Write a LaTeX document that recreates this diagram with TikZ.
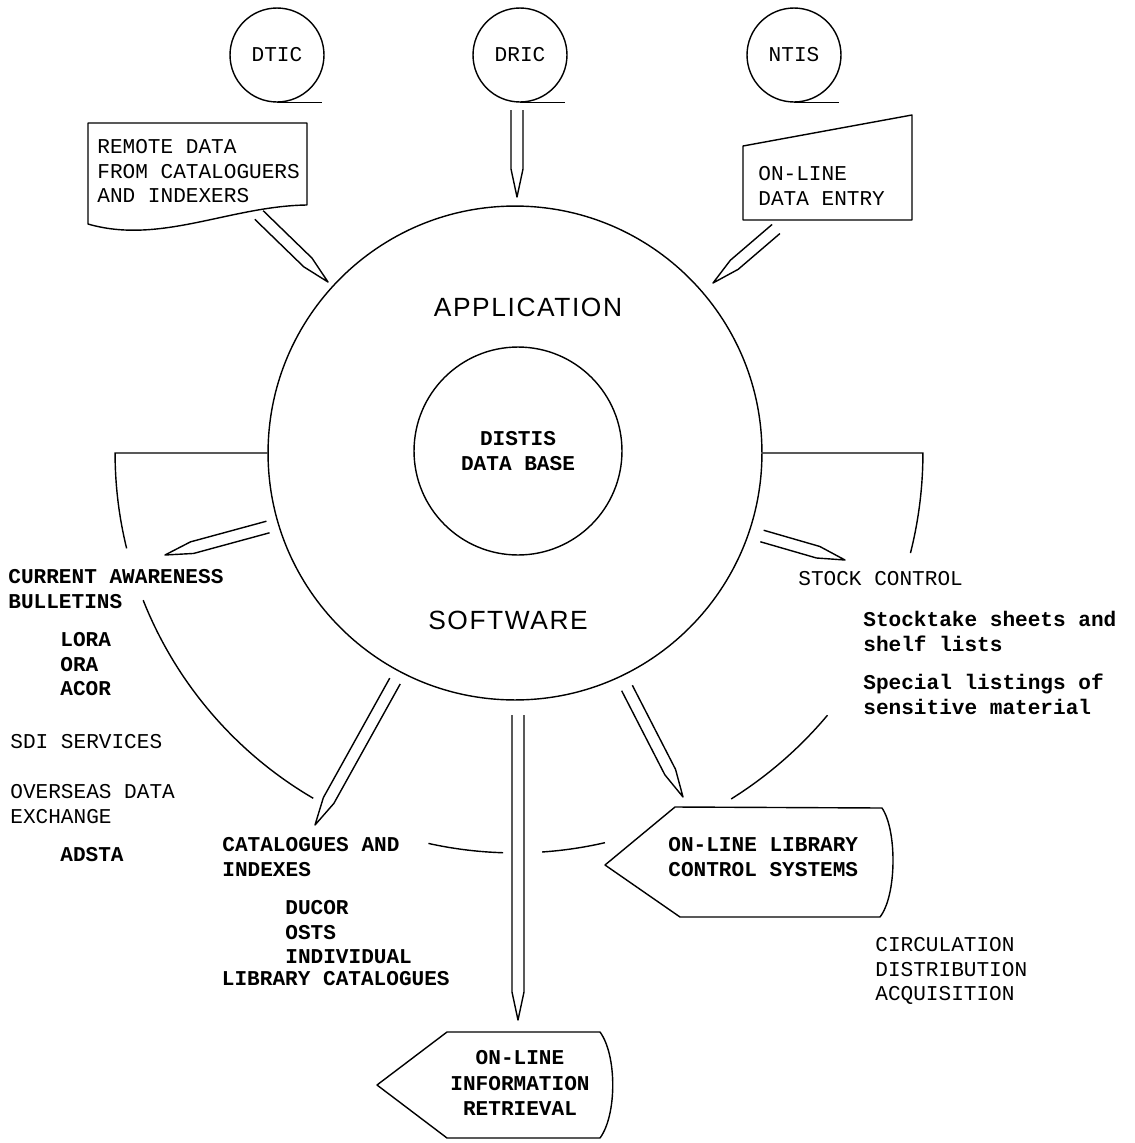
\documentclass[tikz,border=0pt]{standalone}
\usepackage{fontspec}
\setmonofont{Liberation Mono}
\newfontfamily\lettering[LetterSpace=6]{Liberation Sans}
\usetikzlibrary{calc}

% hollow feed arrow: #1 start, #2 tip
\newcommand{\feed}[2]{%
  \coordinate (fp) at ($(#2)!0.56cm!(#1)$);
  \draw[feedline] ($(#1)!0.12cm!90:(#2)$) -- ($(fp)!0.12cm!90:(#2)$) -- (#2)
    -- ($(fp)!0.12cm!-90:(#2)$) -- ($(#1)!0.12cm!-90:(#2)$);
}

\begin{document}
\begin{tikzpicture}[
    x=0.02cm, y=-0.02cm,
    every node/.style={inner sep=0pt},
    lbl/.style={anchor=north west, align=left, font=\ttfamily\fontsize{12pt}{14pt}\selectfont},
    blbl/.style={lbl, font=\ttfamily\bfseries\fontsize{12pt}{14pt}\selectfont},
    tape/.style={circle, draw, line width=0.8pt, minimum size=1.88cm, font=\ttfamily\fontsize{12pt}{14pt}\selectfont},
    hub/.style={circle, draw, line width=0.8pt},
    heading/.style={font=\lettering\fontsize{15pt}{18pt}\selectfont},
    outline/.style={line width=0.8pt, line join=round},
    feedline/.style={line width=0.8pt, line join=round},
    ring/.style={line width=0.8pt}
]
\useasboundingbox (0,0) rectangle (1134,1143);

% Centre: application software round the data base
\node[hub, minimum size=9.88cm] (app) at (515,453) {};
\node[hub, minimum size=4.16cm, font=\ttfamily\bfseries\fontsize{12pt}{14pt}\selectfont, align=center] (db) at (518,451) {DISTIS\\DATA BASE};
\node[heading] (apptxt) at (528,307) {APPLICATION};
\node[heading] (softtxt) at (508,620) {SOFTWARE};

% Top: sources
\node[tape] (dtic) at (277,55) {DTIC};
\node[tape] (dric) at (520,55) {DRIC};
\node[tape] (ntis) at (794,55) {NTIS};
\draw[ring] (dtic.south) -- ++(45,0);
\draw[ring] (dric.south) -- ++(45,0);
\draw[ring] (ntis.south) -- ++(45,0);

\node[lbl] (remote) at (97,139) {REMOTE DATA\\FROM CATALOGUERS\\AND INDEXERS};
\draw[outline] (88,123) -- (307,123) -- (307,205) .. controls (230,206) and (160,245) .. (88,224) -- cycle;

\node[lbl] (entry) at (758,166) {ON-LINE\\DATA ENTRY};
\draw[outline] (743,146) -- (912,115) -- (912,220) -- (743,220) -- cycle;

% Left: bulletins and services
\node[blbl] (current) at (8,569) {CURRENT AWARENESS\\BULLETINS};
\node[blbl] (lora) at (60,632) {LORA\\ORA\\ACOR};
\node[lbl] (sdi) at (10,734) {SDI SERVICES};
\node[lbl] (overseas) at (10,784) {OVERSEAS DATA\\EXCHANGE};
\node[blbl] (adsta) at (60,847) {ADSTA};

% Bottom: catalogues and retrieval
\node[blbl] (catalogues) at (222,837) {CATALOGUES AND\\INDEXES};
\node[blbl] (ducor) at (285,900) {DUCOR\\OSTS\\INDIVIDUAL};
\node[blbl, anchor=north east] (libcat) at (450,971) {LIBRARY CATALOGUES};

\node[blbl, anchor=center, align=center, font=\ttfamily\bfseries\fontsize{12pt}{14.4pt}\selectfont] (retrieval) at (520,1083) {ON-LINE\\INFORMATION\\RETRIEVAL};
\draw[outline] (377,1085) -- (447,1032) -- (600,1032) .. controls (617,1055) and (617,1115) .. (600,1138) -- (447,1138) -- cycle;

% Right: stock and library control
\node[lbl] (stock) at (798,571) {STOCK CONTROL};
\node[blbl] (stocktake) at (863,611) {Stocktake sheets and\\shelf lists};
\node[blbl] (special) at (863,674) {Special listings of\\sensitive material};

\node[blbl] (library) at (668,837) {ON-LINE LIBRARY\\CONTROL SYSTEMS};
\draw[outline] (605,865) -- (675,807) -- (882,808) .. controls (897,830) and (897,895) .. (880,917) -- (680,917) -- cycle;
\node[lbl] (circ) at (875,937) {CIRCULATION\\DISTRIBUTION\\ACQUISITION};

% Brackets round the outputs
\draw[ring] (app.west) -- ([shift={(180:8cm)}]app.center) arc[start angle=180, end angle=193.8, radius=8cm];
\draw[ring] ([shift={(201.6:8cm)}]app.center) arc[start angle=201.6, end angle=239.7, radius=8cm];
\draw[ring] ([shift={(257.5:8cm)}]app.center) arc[start angle=257.5, end angle=268.3, radius=8cm];
\draw[ring] ([shift={(273.9:8cm)}]app.center) arc[start angle=273.9, end angle=283, radius=8cm];
\draw[ring] (app.east) -- ([shift={(0:8.16cm)}]app.center) arc[start angle=0, end angle=-14.2, radius=8.16cm];
\draw[ring] ([shift={(-40:8.16cm)}]app.center) arc[start angle=-40, end angle=-58, radius=8.16cm];

% Feed arrows
\coordinate (remote-out) at (259,215);  \coordinate (app-in1) at (328,282);
\coordinate (dric-out) at (517,110);    \coordinate (app-in2) at (517,197);
\coordinate (entry-out) at (776,229);   \coordinate (app-in3) at (713,283);
\coordinate (app-out1) at (268,527);    \coordinate (current-in) at (165,555);
\coordinate (app-out2) at (762,536);    \coordinate (stock-in) at (845,560);
\coordinate (app-out3) at (395,681);    \coordinate (catalogues-in) at (315,825);
\coordinate (app-out4) at (518,715);    \coordinate (retrieval-in) at (518,1020);
\coordinate (app-out5) at (627,688);    \coordinate (library-in) at (683,797);

\feed{remote-out}{app-in1}
\feed{dric-out}{app-in2}
\feed{entry-out}{app-in3}
\feed{app-out1}{current-in}
\feed{app-out2}{stock-in}
\feed{app-out3}{catalogues-in}
\feed{app-out4}{retrieval-in}
\feed{app-out5}{library-in}

\end{tikzpicture}
\end{document}
